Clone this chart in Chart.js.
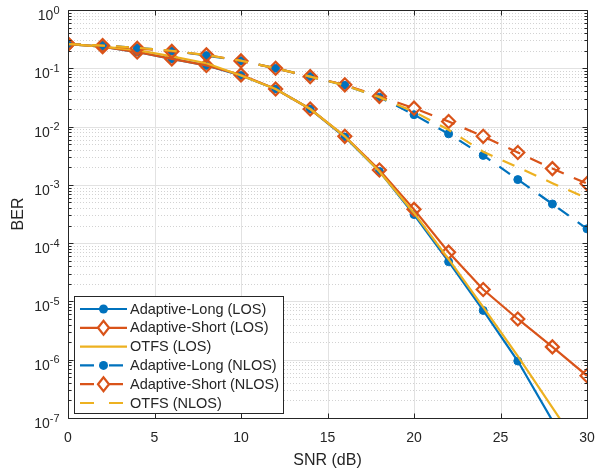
<!DOCTYPE html>
<html><head><meta charset="utf-8">
<script src="https://cdn.jsdelivr.net/npm/chart.js@4/dist/chart.umd.min.js"></script>
<style>html,body{margin:0;padding:0;background:#fff}#wrap{width:597px;height:473px;position:relative}</style>
</head><body><div id="wrap"><canvas id="c" width="597" height="473"></canvas></div>
<script>
// ---- data ----
const snr = [0,2,4,6,8,10,12,14,16,18,20,22,24,26,28,30];
const xTicks = [0,5,10,15,20,25,30];
const yTickExponents = [0,-1,-2,-3,-4,-5,-6,-7];
const xLabel = 'SNR (dB)';
const yLabel = 'BER';
const seriesNames = ['Adaptive-Long (LOS)','Adaptive-Short (LOS)','OTFS (LOS)','Adaptive-Long (NLOS)','Adaptive-Short (NLOS)','OTFS (NLOS)'];
const adaptiveLongLOS  = [0.26,0.235,0.19,0.145,0.112,0.075,0.044,0.020,0.0066,0.0017,0.00031,4.8e-5,7e-6,9.5e-7,9e-8,6e-9];
const adaptiveShortLOS = [0.26,0.235,0.19,0.145,0.112,0.077,0.044,0.020,0.0068,0.0018,0.00038,7e-5,1.6e-5,5e-6,1.66e-6,5.3e-7];
const otfsLOS          = [0.26,0.235,0.205,0.16,0.122,0.075,0.044,0.020,0.0068,0.0017,0.00033,5.3e-5,8e-6,1.15e-6,1.5e-7,2e-8];
const adaptiveLongNLOS = [0.26,0.245,0.225,0.20,0.165,0.135,0.10,0.072,0.051,0.032,0.016,0.0075,0.0032,0.00123,0.00047,0.000176];
const adaptiveShortNLOS= [0.26,0.245,0.22,0.195,0.17,0.134,0.10,0.072,0.052,0.033,0.0207,0.0122,0.0068,0.0036,0.0019,0.00105];
const otfsNLOS         = [0.26,0.245,0.225,0.20,0.168,0.135,0.10,0.072,0.051,0.032,0.018,0.0088,0.0037,0.0020,0.00107,0.00059];

// ---- style ----
const BLUE='#0072BD', ORANGE='#D95319', YELLOW='#EDB120', TXT='#262626';
const FONT='"Liberation Sans", Arial, Helvetica, sans-serif';
const Y_MIN=1e-7, Y_MAX=1;
const DASH=[13,11];
const LW=2.2;

function mk(label, data, color, marker, dashed){
  const ds = {label, data: data.map((v,i)=>({x:snr[i], y:v})), borderColor: color, borderWidth: LW,
    borderDash: dashed ? DASH : [], pointBorderColor: color, tension: 0, fill:false};
  if (marker==='circle'){ ds.pointStyle='circle'; ds.pointBackgroundColor=color; ds.pointBorderWidth=1;
    ds.pointRadius = c => (c.raw && c.raw.y < Y_MIN) ? 0 : 4; }
  else if (marker==='diamond'){ ds.pointStyle='rectRot'; ds.pointBackgroundColor='rgba(255,255,255,0)'; ds.pointBorderWidth=2.2;
    ds.pointRadius = c => (c.raw && c.raw.y < Y_MIN) ? 0 : 6.5; }
  else { ds.pointRadius=0; }
  ds._marker = marker;
  return ds;
}
const datasets = [
  mk(seriesNames[0], adaptiveLongLOS, BLUE, 'circle', false),
  mk(seriesNames[1], adaptiveShortLOS, ORANGE, 'diamond', false),
  mk(seriesNames[2], otfsLOS, YELLOW, 'none', false),
  mk(seriesNames[3], adaptiveLongNLOS, BLUE, 'circle', true),
  mk(seriesNames[4], adaptiveShortNLOS, ORANGE, 'diamond', true),
  mk(seriesNames[5], otfsNLOS, YELLOW, 'none', true),
];
datasets.forEach((d,i)=>{ d.order = datasets.length - i; });

const matlabAxes = {
  id:'matlabAxes',
  beforeDatasetsDraw(chart){
    const {ctx, chartArea:a, scales:{x,y}} = chart;
    ctx.save();
    ctx.beginPath(); ctx.rect(a.left,a.top,a.right-a.left,a.bottom-a.top); ctx.clip();
    ctx.lineWidth=1;
    ctx.strokeStyle='#d2d2d2'; ctx.setLineDash([1,2]);
    for (let e=-7; e<0; e++) for (let m=2; m<=9; m++){
      const py = Math.round(y.getPixelForValue(m*Math.pow(10,e)))+0.5;
      ctx.beginPath(); ctx.moveTo(a.left,py); ctx.lineTo(a.right,py); ctx.stroke();
    }
    ctx.setLineDash([]); ctx.strokeStyle='#e2e2e2';
    yTickExponents.forEach(e=>{
      const py = Math.round(y.getPixelForValue(Math.pow(10,e)))+0.5;
      ctx.beginPath(); ctx.moveTo(a.left,py); ctx.lineTo(a.right,py); ctx.stroke();
    });
    xTicks.forEach(t=>{
      const px = Math.round(x.getPixelForValue(t))+0.5;
      ctx.beginPath(); ctx.moveTo(px,a.top); ctx.lineTo(px,a.bottom); ctx.stroke();
    });
    ctx.restore();
  },
  afterDatasetsDraw(chart){
    const {ctx, chartArea:a, scales:{x,y}} = chart;
    ctx.save();
    const L=Math.round(a.left)+0.5, R=Math.round(a.right)+0.5, T=Math.round(a.top)+0.5, B=Math.round(a.bottom)+0.5;
    ctx.strokeStyle=TXT; ctx.lineWidth=1;
    ctx.beginPath(); ctx.moveTo(L,T); ctx.lineTo(R,T); ctx.lineTo(R,B); ctx.lineTo(L,B); ctx.closePath(); ctx.stroke();
    ctx.beginPath();
    xTicks.forEach(t=>{ const px=Math.round(x.getPixelForValue(t))+0.5;
      ctx.moveTo(px,B); ctx.lineTo(px,B-5); ctx.moveTo(px,T); ctx.lineTo(px,T+5); });
    yTickExponents.forEach(e=>{ const py=Math.round(y.getPixelForValue(Math.pow(10,e)))+0.5;
      ctx.moveTo(L,py); ctx.lineTo(L+5,py); ctx.moveTo(R,py); ctx.lineTo(R-5,py); });
    for (let e=-7; e<0; e++) for (let m=2; m<=9; m++){
      const py=Math.round(y.getPixelForValue(m*Math.pow(10,e)))+0.5;
      ctx.moveTo(L,py); ctx.lineTo(L+3,py); ctx.moveTo(R,py); ctx.lineTo(R-3,py);
    }
    ctx.stroke();
    ctx.fillStyle=TXT; ctx.font='14px '+FONT; ctx.textAlign='center'; ctx.textBaseline='alphabetic';
    xTicks.forEach(t=>{ ctx.fillText(String(t), x.getPixelForValue(t), 442); });
    yTickExponents.forEach(e=>{
      const py=y.getPixelForValue(Math.pow(10,e));
      const ex = e===0 ? '0' : '-'+Math.abs(e);
      ctx.font='11px '+FONT; const w2=ctx.measureText(ex).width;
      ctx.font='14px '+FONT; const w1=ctx.measureText('10').width;
      const right=a.left-8.5;
      ctx.textAlign='left';
      ctx.font='14px '+FONT; ctx.fillText('10', right-w2-w1, py+10);
      ctx.font='11px '+FONT; ctx.fillText(ex, right-w2, py+3.5);
    });
    ctx.font='16px '+FONT; ctx.textAlign='center';
    ctx.fillText(xLabel, (a.left+a.right)/2, 464.5);
    ctx.save(); ctx.translate(23, (a.top+a.bottom)/2); ctx.rotate(-Math.PI/2);
    ctx.fillText(yLabel, 0, 0); ctx.restore();
    // legend
    const bx=74.5, by=296.5, bw=209, bh=117;
    ctx.fillStyle='#fff'; ctx.fillRect(bx,by,bw,bh);
    ctx.strokeStyle=TXT; ctx.lineWidth=1; ctx.strokeRect(bx,by,bw,bh);
    chart.data.datasets.forEach((d,i)=>{
      const cy = 309 + i*18.8;
      ctx.save();
      ctx.strokeStyle=d.borderColor; ctx.lineWidth=LW; ctx.setLineDash(d.borderDash && d.borderDash.length ? [14,15] : []);
      ctx.beginPath(); ctx.moveTo(80,cy); ctx.lineTo(127,cy); ctx.stroke();
      ctx.setLineDash([]);
      if (d._marker==='circle'){
        ctx.fillStyle=d.borderColor; ctx.beginPath(); ctx.arc(103.5,cy,4.5,0,Math.PI*2); ctx.fill();
      } else if (d._marker==='diamond'){
        ctx.fillStyle='#fff'; ctx.lineWidth=2.2; ctx.beginPath();
        ctx.moveTo(103.5-5.5,cy); ctx.lineTo(103.5,cy-7); ctx.lineTo(103.5+5.5,cy); ctx.lineTo(103.5,cy+7); ctx.closePath();
        ctx.fill(); ctx.stroke();
      }
      ctx.restore();
      ctx.fillStyle=TXT; ctx.font='14.5px '+FONT; ctx.textAlign='left'; ctx.textBaseline='middle';
      ctx.fillText(d.label, 130, cy+0.5);
      ctx.textBaseline='alphabetic';
    });
    ctx.restore();
  }
};

new Chart(document.getElementById('c'), {
  type:'line',
  data:{ datasets },
  options:{
    responsive:false, animation:false, devicePixelRatio:1,
    layout:{ padding:{ top:10, right:10, left:0, bottom:0 } },
    plugins:{ legend:{display:false}, tooltip:{enabled:false} },
    scales:{
      x:{ type:'linear', min:0, max:30, grid:{display:false}, border:{display:false},
          ticks:{display:false}, afterFit:s=>{ s.height=55; } },
      y:{ type:'logarithmic', min:Y_MIN, max:Y_MAX, grid:{display:false}, border:{display:false},
          ticks:{display:false}, afterFit:s=>{ s.width=68; } }
    }
  },
  plugins:[matlabAxes]
});
</script></body></html>
